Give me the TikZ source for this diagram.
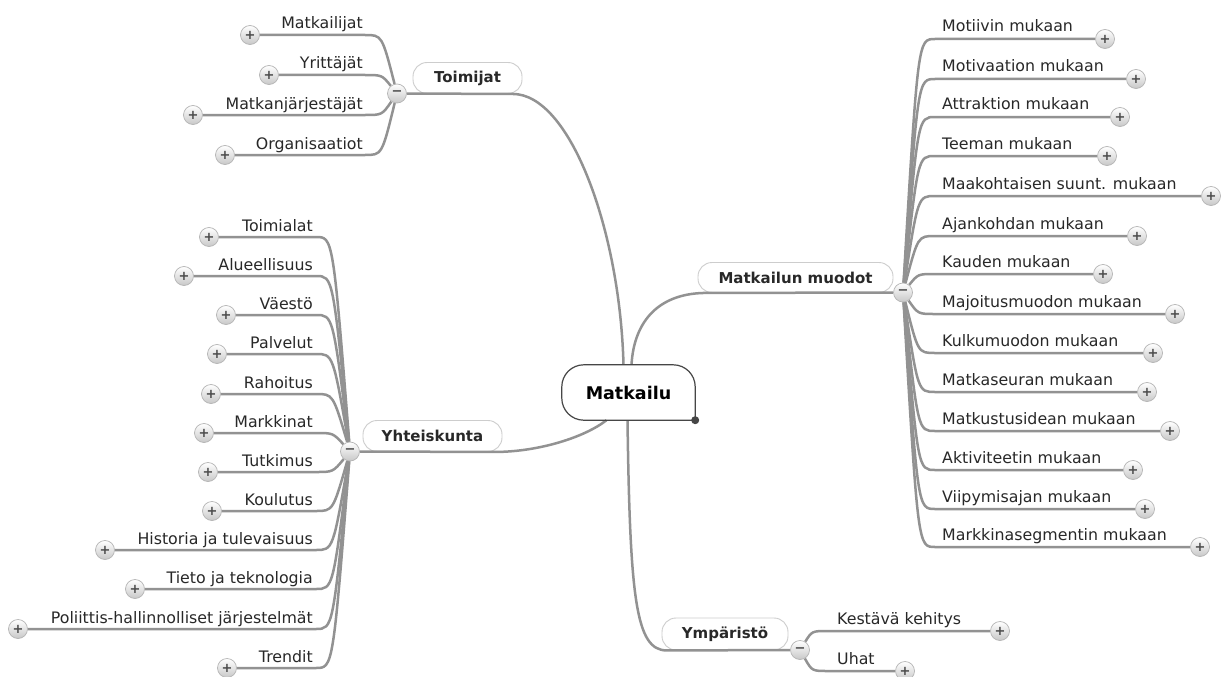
\documentclass[tikz,border=0pt]{standalone}
\usepackage{fontspec}
\setmainfont{DejaVu Sans}
\usepackage{tikz}
\usetikzlibrary{backgrounds}

\definecolor{linegray}{RGB}{146,146,146}
\definecolor{boxgray}{RGB}{205,205,205}
\definecolor{txt}{RGB}{40,40,40}
\definecolor{knobgray}{RGB}{180,180,180}
\definecolor{knobfill}{RGB}{200,200,200}
\definecolor{knobtxt}{RGB}{75,75,75}
\definecolor{ctrgray}{RGB}{70,70,70}

\begin{document}
\begin{tikzpicture}[x=1pt, y=-1pt,
  branch/.style={draw=linegray, line width=2.5pt},
  topic/.style={draw=boxgray, line width=0.9pt, rounded corners=14pt, inner sep=0pt,
    text=txt, font=\bfseries\fontsize{15}{17}\selectfont},
  leaf/.style={inner sep=0pt, text=txt, font=\fontsize{15.8}{18}\selectfont},
  knob/.style={circle, draw=knobgray, line width=0.7pt, top color=white, bottom color=knobfill,
    minimum size=19pt, inner sep=0pt, text=knobtxt, font=\bfseries\fontsize{13}{13}\selectfont}]
  \useasboundingbox (0,0) rectangle (1221,677);

  \begin{scope}[on background layer]
    \fill[white] (0,0) rectangle (1221,677);
    \node[topic, minimum width=109pt, minimum height=31pt] (Toim) at (467.5,78) {Toimijat};
    \node[topic, minimum width=195pt, minimum height=30pt] (Muod) at (795.5,277.5) {Matkailun muodot};
    \node[topic, minimum width=139pt, minimum height=31pt] (Yht) at (432.5,436) {Yhteiskunta};
    \node[topic, minimum width=126pt, minimum height=32pt] (Ymp) at (725,634) {Ympäristö};
  \end{scope}

  % center
  \node[minimum width=133pt, minimum height=55pt, inner sep=0pt, text=black,
    font=\bfseries\fontsize{17.5}{20}\selectfont] (M) at (628.5,392.5) {Matkailu};
  \draw[draw=ctrgray, line width=1.2pt] (M.east) [rounded corners=22pt] -- (M.north east) -- (M.north west)
    -- (M.south west) -- (M.south) [sharp corners] -- (M.south east) -- cycle;
  \fill[ctrgray] (M.south east) circle (4pt);

  \node[knob] (mToim) at (397,93.5) {−};
  \node[knob] (mMuod) at (903,292.5) {−};
  \node[knob] (mYht) at (350,451.5) {−};
  \node[knob] (mYmp) at (800,650) {−};

  \begin{scope}[on background layer]
    \draw[branch] (mToim) -- ([xshift=-10pt]Toim.south east) .. controls (570,93.5) and (620,230) .. ([xshift=-5pt]M.north);
    \draw[branch] (mMuod) -- ([xshift=10pt]Muod.south west) .. controls (660,292.5) and (634,320) .. ([xshift=3pt]M.north);
    \draw[branch] (mYht) -- ([xshift=-6pt]Yht.south east) .. controls (540,451.5) and (585,437) .. ([xshift=-22pt]M.south);
    \draw[branch] ([xshift=-1pt]M.south) .. controls (630,600) and (636,650) .. ([xshift=5pt]Ymp.south west) -- (mYmp);
  \end{scope}

  % Toimijat
  \node[leaf, anchor=base east] (Toim1) at (363,29) {Matkailijat};
  \node[leaf, anchor=base east] (Toim2) at (363,69) {Yrittäjät};
  \node[leaf, anchor=base east] (Toim3) at (363,109) {Matkanjärjestäjät};
  \node[leaf, anchor=base east] (Toim4) at (363,149) {Organisaatiot};
  \node[knob] (pToim1) at (250,35) {+};
  \node[knob] (pToim2) at (269,75) {+};
  \node[knob] (pToim3) at (193,115) {+};
  \node[knob] (pToim4) at (225,155) {+};
  \begin{scope}[on background layer]
    \draw[branch] (mToim) .. controls (382,35) .. (365,35) -- (pToim1);
    \draw[branch] (mToim) .. controls (382,75) .. (365,75) -- (pToim2);
    \draw[branch] (mToim) .. controls (382,115) .. (365,115) -- (pToim3);
    \draw[branch] (mToim) .. controls (382,155) .. (365,155) -- (pToim4);
  \end{scope}

  % Yhteiskunta
  \node[leaf, anchor=base east] (Yht1) at (313,231) {Toimialat};
  \node[leaf, anchor=base east] (Yht2) at (313,270) {Alueellisuus};
  \node[leaf, anchor=base east] (Yht3) at (313,309) {Väestö};
  \node[leaf, anchor=base east] (Yht4) at (313,348) {Palvelut};
  \node[leaf, anchor=base east] (Yht5) at (313,388) {Rahoitus};
  \node[leaf, anchor=base east] (Yht6) at (313,427) {Markkinat};
  \node[leaf, anchor=base east] (Yht7) at (313,466) {Tutkimus};
  \node[leaf, anchor=base east] (Yht8) at (313,505) {Koulutus};
  \node[leaf, anchor=base east] (Yht9) at (313,544) {Historia ja tulevaisuus};
  \node[leaf, anchor=base east] (Yht10) at (313,583) {Tieto ja teknologia};
  \node[leaf, anchor=base east] (Yht11) at (313,623) {Poliittis-hallinnolliset järjestelmät};
  \node[leaf, anchor=base east] (Yht12) at (313,662) {Trendit};
  \node[knob] (pYht1) at (209,237) {+};
  \node[knob] (pYht2) at (184,276) {+};
  \node[knob] (pYht3) at (226,315) {+};
  \node[knob] (pYht4) at (217,354) {+};
  \node[knob] (pYht5) at (211,394) {+};
  \node[knob] (pYht6) at (204,433) {+};
  \node[knob] (pYht7) at (208,472) {+};
  \node[knob] (pYht8) at (212,511) {+};
  \node[knob] (pYht9) at (105,550) {+};
  \node[knob] (pYht10) at (135,589) {+};
  \node[knob] (pYht11) at (18,629) {+};
  \node[knob] (pYht12) at (227,668) {+};
  \begin{scope}[on background layer]
    \draw[branch] (mYht) .. controls (333,237) .. (316,237) -- (pYht1);
    \draw[branch] (mYht) .. controls (333,276) .. (316,276) -- (pYht2);
    \draw[branch] (mYht) .. controls (333,315) .. (316,315) -- (pYht3);
    \draw[branch] (mYht) .. controls (333,354) .. (316,354) -- (pYht4);
    \draw[branch] (mYht) .. controls (333,394) .. (316,394) -- (pYht5);
    \draw[branch] (mYht) .. controls (333,433) .. (316,433) -- (pYht6);
    \draw[branch] (mYht) .. controls (333,472) .. (316,472) -- (pYht7);
    \draw[branch] (mYht) .. controls (333,511) .. (316,511) -- (pYht8);
    \draw[branch] (mYht) .. controls (333,550) .. (316,550) -- (pYht9);
    \draw[branch] (mYht) .. controls (333,589) .. (316,589) -- (pYht10);
    \draw[branch] (mYht) .. controls (333,629) .. (316,629) -- (pYht11);
    \draw[branch] (mYht) .. controls (333,668) .. (316,668) -- (pYht12);
  \end{scope}

  % Matkailun muodot
  \node[leaf, anchor=base west] (Muod1) at (942,32) {Motiivin mukaan};
  \node[leaf, anchor=base west] (Muod2) at (942,72) {Motivaation mukaan};
  \node[leaf, anchor=base west] (Muod3) at (942,110) {Attraktion mukaan};
  \node[leaf, anchor=base west] (Muod4) at (942,149) {Teeman mukaan};
  \node[leaf, anchor=base west] (Muod5) at (942,189) {Maakohtaisen suunt. mukaan};
  \node[leaf, anchor=base west] (Muod6) at (942,229) {Ajankohdan mukaan};
  \node[leaf, anchor=base west] (Muod7) at (942,267) {Kauden mukaan};
  \node[leaf, anchor=base west] (Muod8) at (942,307) {Majoitusmuodon mukaan};
  \node[leaf, anchor=base west] (Muod9) at (942,346) {Kulkumuodon mukaan};
  \node[leaf, anchor=base west] (Muod10) at (942,385) {Matkaseuran mukaan};
  \node[leaf, anchor=base west] (Muod11) at (942,424) {Matkustusidean mukaan};
  \node[leaf, anchor=base west] (Muod12) at (942,463) {Aktiviteetin mukaan};
  \node[leaf, anchor=base west] (Muod13) at (942,502) {Viipymisajan mukaan};
  \node[leaf, anchor=base west] (Muod14) at (942,540) {Markkinasegmentin mukaan};
  \node[knob] (pMuod1) at (1105,39) {+};
  \node[knob] (pMuod2) at (1136,79) {+};
  \node[knob] (pMuod3) at (1120,117) {+};
  \node[knob] (pMuod4) at (1107,156) {+};
  \node[knob] (pMuod5) at (1211,196) {+};
  \node[knob] (pMuod6) at (1137,236) {+};
  \node[knob] (pMuod7) at (1103,274) {+};
  \node[knob] (pMuod8) at (1175,314) {+};
  \node[knob] (pMuod9) at (1153,353) {+};
  \node[knob] (pMuod10) at (1147,392) {+};
  \node[knob] (pMuod11) at (1170,431) {+};
  \node[knob] (pMuod12) at (1133,470) {+};
  \node[knob] (pMuod13) at (1145,509) {+};
  \node[knob] (pMuod14) at (1200,547) {+};
  \begin{scope}[on background layer]
    \draw[branch] (mMuod) .. controls (918,39) .. (935,39) -- (pMuod1);
    \draw[branch] (mMuod) .. controls (918,79) .. (935,79) -- (pMuod2);
    \draw[branch] (mMuod) .. controls (918,117) .. (935,117) -- (pMuod3);
    \draw[branch] (mMuod) .. controls (918,156) .. (935,156) -- (pMuod4);
    \draw[branch] (mMuod) .. controls (918,196) .. (935,196) -- (pMuod5);
    \draw[branch] (mMuod) .. controls (918,236) .. (935,236) -- (pMuod6);
    \draw[branch] (mMuod) .. controls (918,274) .. (935,274) -- (pMuod7);
    \draw[branch] (mMuod) .. controls (918,314) .. (935,314) -- (pMuod8);
    \draw[branch] (mMuod) .. controls (918,353) .. (935,353) -- (pMuod9);
    \draw[branch] (mMuod) .. controls (918,392) .. (935,392) -- (pMuod10);
    \draw[branch] (mMuod) .. controls (918,431) .. (935,431) -- (pMuod11);
    \draw[branch] (mMuod) .. controls (918,470) .. (935,470) -- (pMuod12);
    \draw[branch] (mMuod) .. controls (918,509) .. (935,509) -- (pMuod13);
    \draw[branch] (mMuod) .. controls (918,547) .. (935,547) -- (pMuod14);
  \end{scope}

  % Ympäristö
  \node[leaf, anchor=base west] (Ymp1) at (837,624) {Kestävä kehitys};
  \node[leaf, anchor=base west] (Ymp2) at (837,664) {Uhat};
  \node[knob] (pYmp1) at (1000,631) {+};
  \node[knob] (pYmp2) at (905,671) {+};
  \begin{scope}[on background layer]
    \draw[branch] (mYmp) .. controls (812,631) .. (828,631) -- (pYmp1);
    \draw[branch] (mYmp) .. controls (812,671) .. (828,671) -- (pYmp2);
  \end{scope}
\end{tikzpicture}
\end{document}
